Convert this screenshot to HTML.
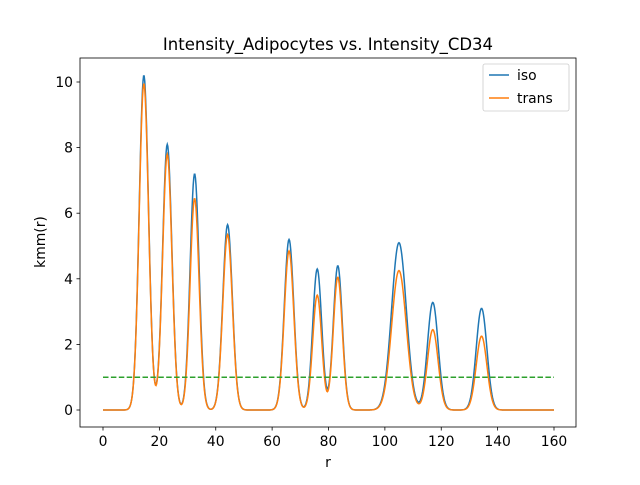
<!DOCTYPE html>
<html><head><meta charset="utf-8"><style>
body{margin:0;background:#fff;font-family:"Liberation Sans","DejaVu Sans",sans-serif;}
svg text{font-family:"DejaVu Sans","Liberation Sans",sans-serif;}
</style></head><body>
<svg id="chart" width="640" height="480" xmlns="http://www.w3.org/2000/svg">
<rect width="640" height="480" fill="#fff"/>
<text x="328" y="50" font-size="16.5" text-anchor="middle">Intensity_Adipocytes vs. Intensity_CD34</text>
<g id="plot"></g>
<rect x="80" y="58" width="496" height="369" fill="none" stroke="#000" stroke-width="0.8"/>
<text x="328" y="467" font-size="13.9" text-anchor="middle">r</text>
<text transform="translate(45,242) rotate(-90)" font-size="13.9" text-anchor="middle">kmm(r)</text>
<g>
<rect x="483" y="64" width="86" height="47" rx="2" fill="#fff" stroke="#ccc" stroke-width="0.8"/>
<line x1="489" y1="75" x2="509" y2="75" stroke="#1f77b4" stroke-width="1.5"/>
<text x="517" y="80" font-size="13.9">iso</text>
<line x1="489" y1="98" x2="509" y2="98" stroke="#ff7f0e" stroke-width="1.5"/>
<text x="517" y="103" font-size="13.9">trans</text>
</g>
</svg>
<script>
const xTicks=[0,20,40,60,80,100,120,140,160];
const yTicks=[0,2,4,6,8,10];
const peakCenters=[14.5,22.8,32.5,44.2,66,76,83.3,105,117,134.3];
const peakWidths=[1.65,1.65,1.6,1.7,1.7,1.6,1.6,2.6,1.9,1.9];
const isoHeights=[10.2,8.1,7.2,5.65,5.2,4.3,4.4,5.1,3.28,3.1];
const transHeights=[9.95,7.8,6.45,5.35,4.85,3.5,4.05,4.25,2.45,2.25];
const threshold=1;
const rMin=0,rMax=160;
const sx=v=>103+(v-0)*(451/160);
const sy=v=>410-v*32.8;
const NS="http://www.w3.org/2000/svg";
const g=document.getElementById('plot');
function mk(t,a){const e=document.createElementNS(NS,t);for(const k in a)e.setAttribute(k,a[k]);g.appendChild(e);return e;}
xTicks.forEach(v=>{
 const l=mk('line',{x1:sx(v),x2:sx(v),y1:427,y2:430.5,stroke:'#000','stroke-width':0.8});
 
 
 const t=mk('text',{x:sx(v),y:446,'font-size':13.9,'text-anchor':'middle'});t.textContent=v;
 
 
});
yTicks.forEach(v=>{
 const l=mk('line',{x1:76.5,x2:80,y1:sy(v),y2:sy(v),stroke:'#000','stroke-width':0.8});
 
 
 const t=mk('text',{x:73,y:sy(v)+5,'font-size':13.9,'text-anchor':'end'});t.textContent=v;
 
 
});
function curve(h){let d='';for(let r=rMin;r<=rMax;r+=0.2){let y=0;for(let i=0;i<peakCenters.length;i++){const z=(r-peakCenters[i])/peakWidths[i];y+=h[i]*Math.exp(-z*z/2);}d+=(d?'L':'M')+sx(r).toFixed(2)+','+sy(y).toFixed(2);}return d;}
const p1=mk('path',{d:curve(isoHeights),fill:'none',stroke:'#1f77b4','stroke-width':1.5});


const p2=mk('path',{d:curve(transHeights),fill:'none',stroke:'#ff7f0e','stroke-width':1.5});


const th=mk('line',{x1:sx(rMin),x2:sx(rMax),y1:sy(threshold),y2:sy(threshold),stroke:'#2ca02c','stroke-width':1.5,'stroke-dasharray':'5.5,2.4'});


</script>
</body></html>
